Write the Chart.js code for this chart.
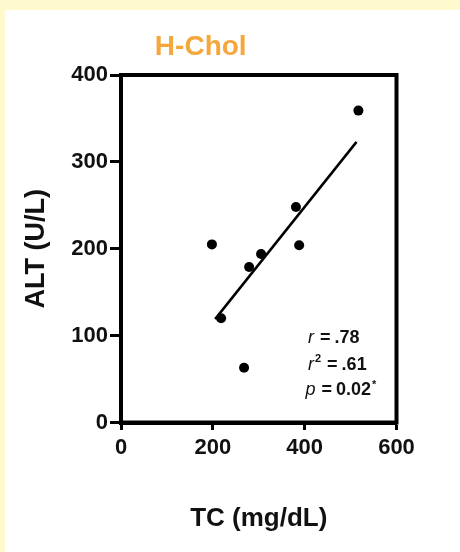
<!DOCTYPE html>
<html><head><meta charset="utf-8">
<script src="https://cdn.jsdelivr.net/npm/chart.js@4"></script>
<style>
html,body{margin:0;padding:0;background:#FFF9CE;width:460px;height:552px;overflow:hidden}
#wrap{position:absolute;left:5px;top:10px;width:455px;height:542px;background:#fff}
canvas{display:block}
</style></head><body>
<div id="wrap"><canvas id="c" width="455" height="542"></canvas></div>
<script>
const chartTitle = 'H-Chol';
const xAxisTitle = 'TC (mg/dL)';
const yAxisTitle = 'ALT (U/L)';
const tcValues  = [198, 218, 268, 279, 305, 381, 388, 517];
const altValues = [205, 120, 63, 179, 194, 248, 204, 359];
const fitX = [205, 513];
const fitY = [119, 323];
const xTicks = [0, 200, 400, 600];
const yTicks = [0, 100, 200, 300, 400];
const statLetters = ['r', 'r', 'p'];
const statSups = ['', '2', ''];
const statValues = ['.78', '.61', '0.02'];
const statMarks = ['', '', '*'];

const FONT = '"Liberation Sans", Arial, Helvetica, sans-serif';

const framePlugin = {
  id: 'frame',
  beforeDatasetsDraw(chart) {
    const {ctx, chartArea: a} = chart;
    ctx.save();
    ctx.strokeStyle = '#000';
    ctx.lineWidth = 4;
    ctx.lineJoin = 'miter';
    ctx.strokeRect(a.left, a.top, a.right - a.left, a.bottom - a.top);
    ctx.restore();
  },
  afterDraw(chart) {
    const {ctx, chartArea: a} = chart;
    ctx.save();
    ctx.fillStyle = '#111';
    ctx.textBaseline = 'alphabetic';
    const baseOff = [79.5, 52.5, 27.5];
    const leftOff = [88.5, 88.5, 91];
    for (let i = 0; i < statLetters.length; i++) {
      let x = a.right - leftOff[i];
      const y = a.bottom - baseOff[i];
      ctx.font = 'italic 18px ' + FONT;
      ctx.fillText(statLetters[i], x, y);
      x += ctx.measureText(statLetters[i]).width;
      if (statSups[i]) {
        ctx.font = 'bold 11px ' + FONT;
        ctx.fillText(statSups[i], x + 1, y - 8);
        x += ctx.measureText(statSups[i]).width + 1;
      }
      x += 6;
      ctx.font = 'bold 18px ' + FONT;
      ctx.fillText('=', x, y);
      x += ctx.measureText('=').width + 4;
      ctx.fillText(statValues[i], x, y);
      x += ctx.measureText(statValues[i]).width;
      if (statMarks[i]) {
        ctx.font = 'bold 11px ' + FONT;
        ctx.fillText(statMarks[i], x + 1, y - 7);
      }
    }
    ctx.restore();
  }
};

new Chart(document.getElementById('c'), {
  type: 'scatter',
  data: {
    datasets: [
      {
        data: tcValues.map((v, i) => ({x: v, y: altValues[i]})),
        backgroundColor: '#000',
        borderColor: '#000',
        pointRadius: 5,
        pointBorderWidth: 0
      },
      {
        data: fitX.map((v, i) => ({x: v, y: fitY[i]})),
        showLine: true,
        borderColor: '#000',
        borderWidth: 2.5,
        pointRadius: 0
      }
    ]
  },
  options: {
    responsive: false,
    animation: false,
    events: [],
    layout: {padding: {left: 0, top: 0, right: 63.5, bottom: 0}},
    plugins: {
      legend: {display: false},
      tooltip: {enabled: false},
      title: {
        display: true,
        text: chartTitle,
        color: '#F5A73B',
        font: {family: FONT, size: 28, weight: 'bold', lineHeight: 1.2},
        padding: {top: 20.2, bottom: 11.2}
      }
    },
    scales: {
      x: {
        type: 'linear',
        min: 0, max: 600,
        afterBuildTicks(s) { s.ticks = xTicks.map(v => ({value: v})); },
        afterFit(s) { s.height = 129.5; },
        border: {display: true, color: '#000', width: 4},
        grid: {drawOnChartArea: false, drawTicks: true, tickLength: 7.5, tickWidth: 3, tickColor: '#000'},
        ticks: {color: '#111', padding: 4.8, font: {family: FONT, size: 22, weight: 'bold', lineHeight: 1.2}},
        title: {display: true, text: xAxisTitle, color: '#111', padding: {bottom: 17.4, top: 0},
                font: {family: FONT, size: 26, weight: 'bold', lineHeight: 1.2}}
      },
      y: {
        type: 'linear',
        min: 0, max: 400,
        afterBuildTicks(s) { s.ticks = yTicks.map(v => ({value: v})); },
        afterFit(s) { s.width = 116; },
        border: {display: true, color: '#000', width: 4},
        grid: {drawOnChartArea: false, drawTicks: true, tickLength: 11, tickWidth: 3, tickColor: '#000'},
        ticks: {color: '#111', padding: 2, font: {family: FONT, size: 22, weight: 'bold', lineHeight: 1.2}},
        title: {display: true, text: yAxisTitle, color: '#111', padding: {top: 15.4, bottom: 0},
                font: {family: FONT, size: 27, weight: 'bold', lineHeight: 1.2}}
      }
    }
  },
  plugins: [framePlugin]
});
</script>
</body></html>
